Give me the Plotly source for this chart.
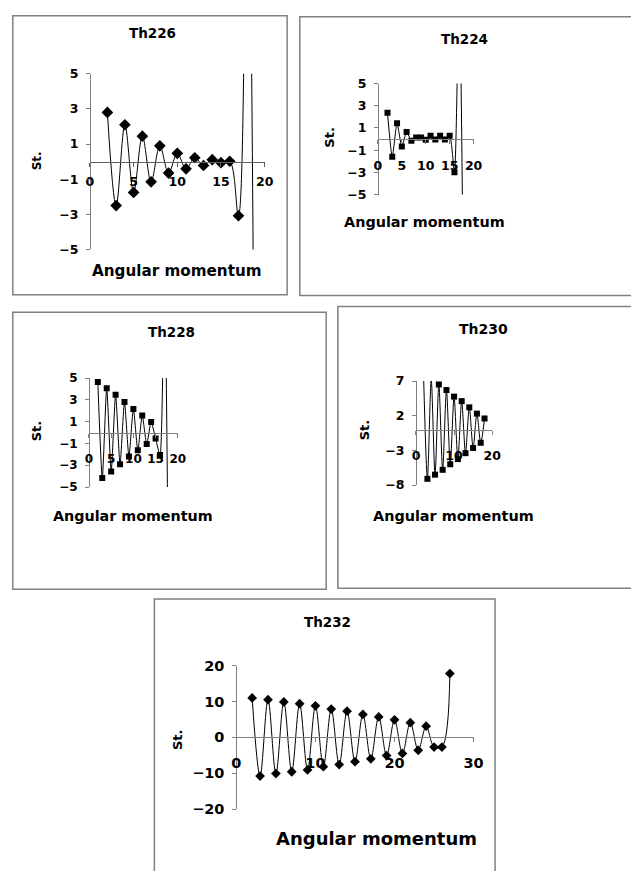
import plotly.graph_objects as go

W, H = 631, 871

# ---------------- data ----------------
j_226 = [2, 3, 4, 5, 6, 7, 8, 9, 10, 11, 12, 13, 14, 15, 16, 17, 18, 19]
st_226 = [2.8, -2.5, 2.1, -1.75, 1.45, -1.15, 0.9, -0.65, 0.47, -0.41, 0.22, -0.22,
          0.11, -0.06, 0.02, -3.08, 20, -30]

j_224 = [2, 3, 4, 5, 6, 7, 8, 9, 10, 11, 12, 13, 14, 15, 16, 17, 18]
st_224 = [2.38, -1.6, 1.42, -0.67, 0.64, -0.15, 0.15, 0.15, -0.06, 0.29, -0.03, 0.29,
          -0.03, 0.29, -3.0, 14, -20]

j_228 = [2, 3, 4, 5, 6, 7, 8, 9, 10, 11, 12, 13, 14, 15, 16, 17, 18]
st_228 = [4.65, -4.17, 4.07, -3.57, 3.47, -2.9, 2.8, -2.2, 2.17, -1.63, 1.57, -1.06,
          0.96, -0.54, -2.06, 15, -20]

j_230 = [2, 3, 4, 5, 6, 7, 8, 9, 10, 11, 12, 13, 14, 15, 16, 17, 18]
st_230 = [7.6, -7.1, 7.2, -6.5, 6.5, -5.8, 5.7, -5.0, 4.75, -4.25, 4.1, -3.4, 3.2, -2.65,
          2.3, -1.9, 1.6]

j_232 = [2, 3, 4, 5, 6, 7, 8, 9, 10, 11, 12, 13, 14, 15, 16, 17, 18, 19, 20, 21, 22,
         23, 24, 25, 26, 27]
st_232 = [11.0, -10.8, 10.5, -10.1, 9.9, -9.6, 9.4, -9.1, 8.8, -8.2, 7.9, -7.6, 7.3,
          -6.8, 6.4, -6.0, 5.7, -5.1, 4.9, -4.5, 4.1, -3.6, 3.1, -2.7, -2.7, 17.8]

titles = ["Th226", "Th224", "Th228", "Th230", "Th232"]
x_title = "Angular momentum"
y_title = "St."

# ---------------- layout helpers (pixel -> paper) ----------------
def px(x):
    return x / W

def py(y):
    return 1 - y / H

FONT = "DejaVu Sans"
GREY = "#808080"

panels = [
    dict(j=j_226, s=st_226, sym="diamond", msize=9, smooth=1.0,
         xpx=(87, 266), ypx=(246, 67), xr=[0, 20], yr=[-5, 5],
         xt=[0, 5, 10, 15, 20], yt=[-5, -3, -1, 1, 3, 5], tf=12.5, xoff=4,
         box=(8, 8, 289, 292), tpos=(151, 25), xtpos=(176, 268), ytpos=(33, 156),
         tsize=13.5, xtsize=15.2, ytsize=12, zl="#606060"),
    dict(j=j_224, s=st_224, sym="square", msize=6, smooth=0.6,
         xpx=(382, 480), ypx=(190, 77), xr=[0, 20], yr=[-5, 5],
         xt=[0, 5, 10, 15, 20], yt=[-5, -3, -1, 1, 3, 5], tf=12.5, xoff=11,
         box=(302, 9, 645, 293), tpos=(471, 32), xtpos=(430, 218), ytpos=(332, 132),
         tsize=13.5, xtsize=14.4, ytsize=13, zl=GREY),
    dict(j=j_228, s=st_228, sym="square", msize=6, smooth=0.6,
         xpx=(86, 177), ypx=(488, 377), xr=[0, 20], yr=[-5, 5],
         xt=[0, 5, 10, 15, 20], yt=[-5, -3, -1, 1, 3, 5], tf=12, xoff=11,
         box=(8, 310, 329, 592), tpos=(171, 330), xtpos=(131, 518), ytpos=(32, 431),
         tsize=13.5, xtsize=14.3, ytsize=13, zl=GREY),
    dict(j=j_230, s=st_230, sym="square", msize=6, smooth=0.8,
         xpx=(421, 499), ypx=(486, 380), xr=[0, 20], yr=[-8, 7],
         xt=[0, 10, 20], yt=[-8, -3, 2, 7], tf=12.5, xoff=10,
         box=(341, 304, 645, 591), tpos=(490, 327), xtpos=(459, 517), ytpos=(368, 430),
         tsize=14, xtsize=14.4, ytsize=13, zl=GREY),
    dict(j=j_232, s=st_232, sym="diamond", msize=7.5, smooth=1.0,
         xpx=(237, 480), ypx=(816, 670), xr=[0, 30], yr=[-20, 20],
         xt=[0, 10, 20, 30], yt=[-20, -10, 0, 10, 20], tf=14.5, xoff=8,
         box=(153, 602, 502, 890), tpos=(330, 625), xtpos=(381, 846), ytpos=(177, 745),
         tsize=13.5, xtsize=18, ytsize=13, zl=GREY),
]

fig = go.Figure()
shapes = []
annotations = []
layout_axes = {}

for i, p in enumerate(panels):
    n = i + 1
    xa = "x" if n == 1 else f"x{n}"
    ya = "y" if n == 1 else f"y{n}"
    xkey = "xaxis" if n == 1 else f"xaxis{n}"
    ykey = "yaxis" if n == 1 else f"yaxis{n}"

    fig.add_trace(go.Scatter(
        x=p["j"], y=p["s"], xaxis=xa, yaxis=ya, mode="lines+markers",
        line=dict(color="black", width=1, shape="spline", smoothing=p["smooth"]),
        marker=dict(symbol=p["sym"], size=p["msize"], color="black"),
        cliponaxis=(n != 4), showlegend=False, hoverinfo="skip",
    ))

    x0, x1 = px(p["xpx"][0]), px(p["xpx"][1])
    yb, yt_ = py(p["ypx"][0]), py(p["ypx"][1])
    ymin, ymax = p["yr"]
    zero_pos = yb + (0 - ymin) / (ymax - ymin) * (yt_ - yb)

    layout_axes[xkey] = dict(
        domain=[x0, x1], range=p["xr"], anchor="free", position=zero_pos,
        showline=True, linecolor=p["zl"], linewidth=1, ticks="outside", ticklen=4,
        tickcolor=p["zl"], tickvals=p["xt"], showgrid=False, zeroline=False,
        tickfont=dict(family=FONT, size=p["tf"], color="black", weight="bold"),
        ticklabelstandoff=p["xoff"], fixedrange=True,
    )
    layout_axes[ykey] = dict(
        domain=[yb, yt_], range=p["yr"], anchor="free", position=x0,
        showline=True, linecolor=GREY, linewidth=1, ticks="outside", ticklen=4,
        tickcolor=GREY, tickvals=p["yt"], showgrid=False, zeroline=False,
        tickfont=dict(family=FONT, size=p["tf"], color="black", weight="bold"),
        ticklabelstandoff=5, fixedrange=True,
    )

    bx0, by0, bx1, by1 = p["box"]
    shapes.append(dict(type="rect", xref="paper", yref="paper",
                       x0=px(bx0), x1=px(bx1), y0=py(by1), y1=py(by0),
                       line=dict(color=GREY, width=1.5), layer="below"))

    annotations.append(dict(text=titles[i], xref="paper", yref="paper",
                            x=px(p["tpos"][0]), y=py(p["tpos"][1]),
                            xanchor="center", yanchor="middle", showarrow=False,
                            font=dict(family=FONT, size=p["tsize"], color="black",
                                      weight="bold")))
    annotations.append(dict(text=x_title, xref="paper", yref="paper",
                            x=px(p["xtpos"][0]), y=py(p["xtpos"][1]),
                            xanchor="center", yanchor="middle", showarrow=False,
                            font=dict(family=FONT, size=p["xtsize"], color="black",
                                      weight="bold")))
    annotations.append(dict(text=y_title, xref="paper", yref="paper",
                            x=px(p["ytpos"][0]), y=py(p["ytpos"][1]),
                            xanchor="center", yanchor="middle", showarrow=False,
                            textangle=-90,
                            font=dict(family=FONT, size=p["ytsize"], color="black",
                                      weight="bold")))

fig.update_layout(
    width=W, height=H, margin=dict(l=0, r=0, t=0, b=0),
    paper_bgcolor="white", plot_bgcolor="rgba(0,0,0,0)",
    shapes=shapes, annotations=annotations, showlegend=False,
    **layout_axes,
)

fig.write_html("out.html", config={"displayModeBar": False})
